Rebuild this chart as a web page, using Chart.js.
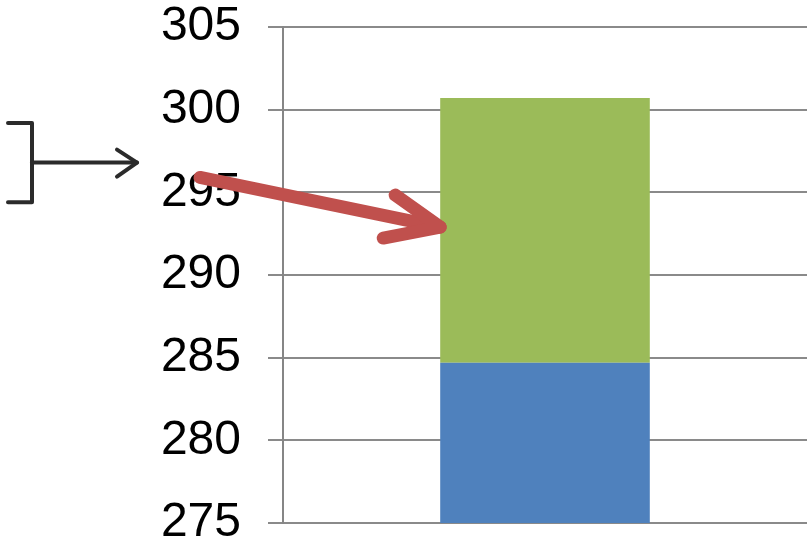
<!DOCTYPE html>
<html>
<head>
<meta charset="utf-8">
<script src="https://cdn.jsdelivr.net/npm/chart.js@4/dist/chart.umd.min.js"></script>
<style>
  html, body { margin: 0; padding: 0; background: #fff; }
  canvas { display: block; }
</style>
</head>
<body>
<canvas id="c" width="807" height="543"></canvas>
<script>
// ---- data ----
const categories = [''];
const baseValues = [284.7];     // blue segment top
const addedValues = [16.0];     // green segment height (top ≈ 300.7)
const yTicks = [275, 280, 285, 290, 295, 300, 305];

// annotation anchors (in data units on y)
const bracketTop = 299.2, bracketBottom = 294.4, bracketMid = 296.8;
const redArrowStart = 295.9, redArrowTip = 292.9;

const annotationPlugin = {
  id: 'annot',
  afterDraw(chart) {
    const ctx = chart.ctx;
    const ys = chart.scales.y;
    const area = chart.chartArea;
    // black bracket + arrow
    ctx.save();
    ctx.strokeStyle = '#2b2b2b';
    ctx.lineWidth = 4;
    ctx.lineCap = 'round';
    ctx.lineJoin = 'round';
    const bt = ys.getPixelForValue(bracketTop);
    const bb = ys.getPixelForValue(bracketBottom);
    const bm = ys.getPixelForValue(bracketMid);
    const bx = area.left - 251;
    ctx.beginPath();
    ctx.moveTo(bx - 24, bt);
    ctx.lineTo(bx, bt);
    ctx.lineTo(bx, bb);
    ctx.lineTo(bx - 24, bb);
    ctx.stroke();
    const tipX = area.left - 146;
    ctx.beginPath();
    ctx.moveTo(bx, bm);
    ctx.lineTo(tipX, bm);
    ctx.stroke();
    ctx.beginPath();
    ctx.moveTo(tipX - 20, bm - 13);
    ctx.lineTo(tipX, bm);
    ctx.lineTo(tipX - 20, bm + 14);
    ctx.stroke();
    ctx.restore();

    // red arrow to bar
    const bar = chart.getDatasetMeta(1).data[0];
    const tx = bar.x - bar.width / 2;
    const ty = ys.getPixelForValue(redArrowTip);
    const sx = area.left - 83;
    const sy = ys.getPixelForValue(redArrowStart);
    ctx.save();
    ctx.strokeStyle = '#C0504D';
    ctx.lineWidth = 13;
    ctx.lineCap = 'round';
    ctx.lineJoin = 'round';
    ctx.beginPath();
    ctx.moveTo(sx, sy);
    ctx.lineTo(tx, ty);
    ctx.stroke();
    ctx.beginPath();
    ctx.moveTo(tx - 45, ty - 32);
    ctx.lineTo(tx, ty);
    ctx.lineTo(tx - 57, ty + 11);
    ctx.stroke();
    ctx.restore();
  }
};

new Chart(document.getElementById('c'), {
  type: 'bar',
  data: {
    labels: categories,
    datasets: [
      { data: baseValues, backgroundColor: '#4F81BD', borderWidth: 0 },
      { data: addedValues, backgroundColor: '#9BBB59', borderWidth: 0 }
    ]
  },
  options: {
    responsive: false,
    devicePixelRatio: 1,
    animation: false,
    layout: { padding: { top: 27, bottom: 20, left: 0, right: 0 } },
    plugins: { legend: { display: false }, tooltip: { enabled: false } },
    datasets: { bar: { categoryPercentage: 1.0, barPercentage: 0.4 } },
    scales: {
      x: { stacked: true, display: false },
      y: {
        stacked: true,
        min: 275, max: 305,
        afterBuildTicks(scale) { scale.ticks = yTicks.map(v => ({ value: v })); },
        afterFit(scale) { scale.width = 283; scale.paddingTop = 0; scale.paddingBottom = 0; },
        ticks: {
          color: '#000',
          font: { family: '"Liberation Sans", Arial, sans-serif', size: 48, lineHeight: 1 },
          padding: 27
        },
        grid: { color: '#8a8a8a', lineWidth: 2, tickLength: 15, drawTicks: true },
        border: { display: true, color: '#868686', width: 2 }
      }
    }
  },
  plugins: [annotationPlugin]
});
</script>
</body>
</html>
